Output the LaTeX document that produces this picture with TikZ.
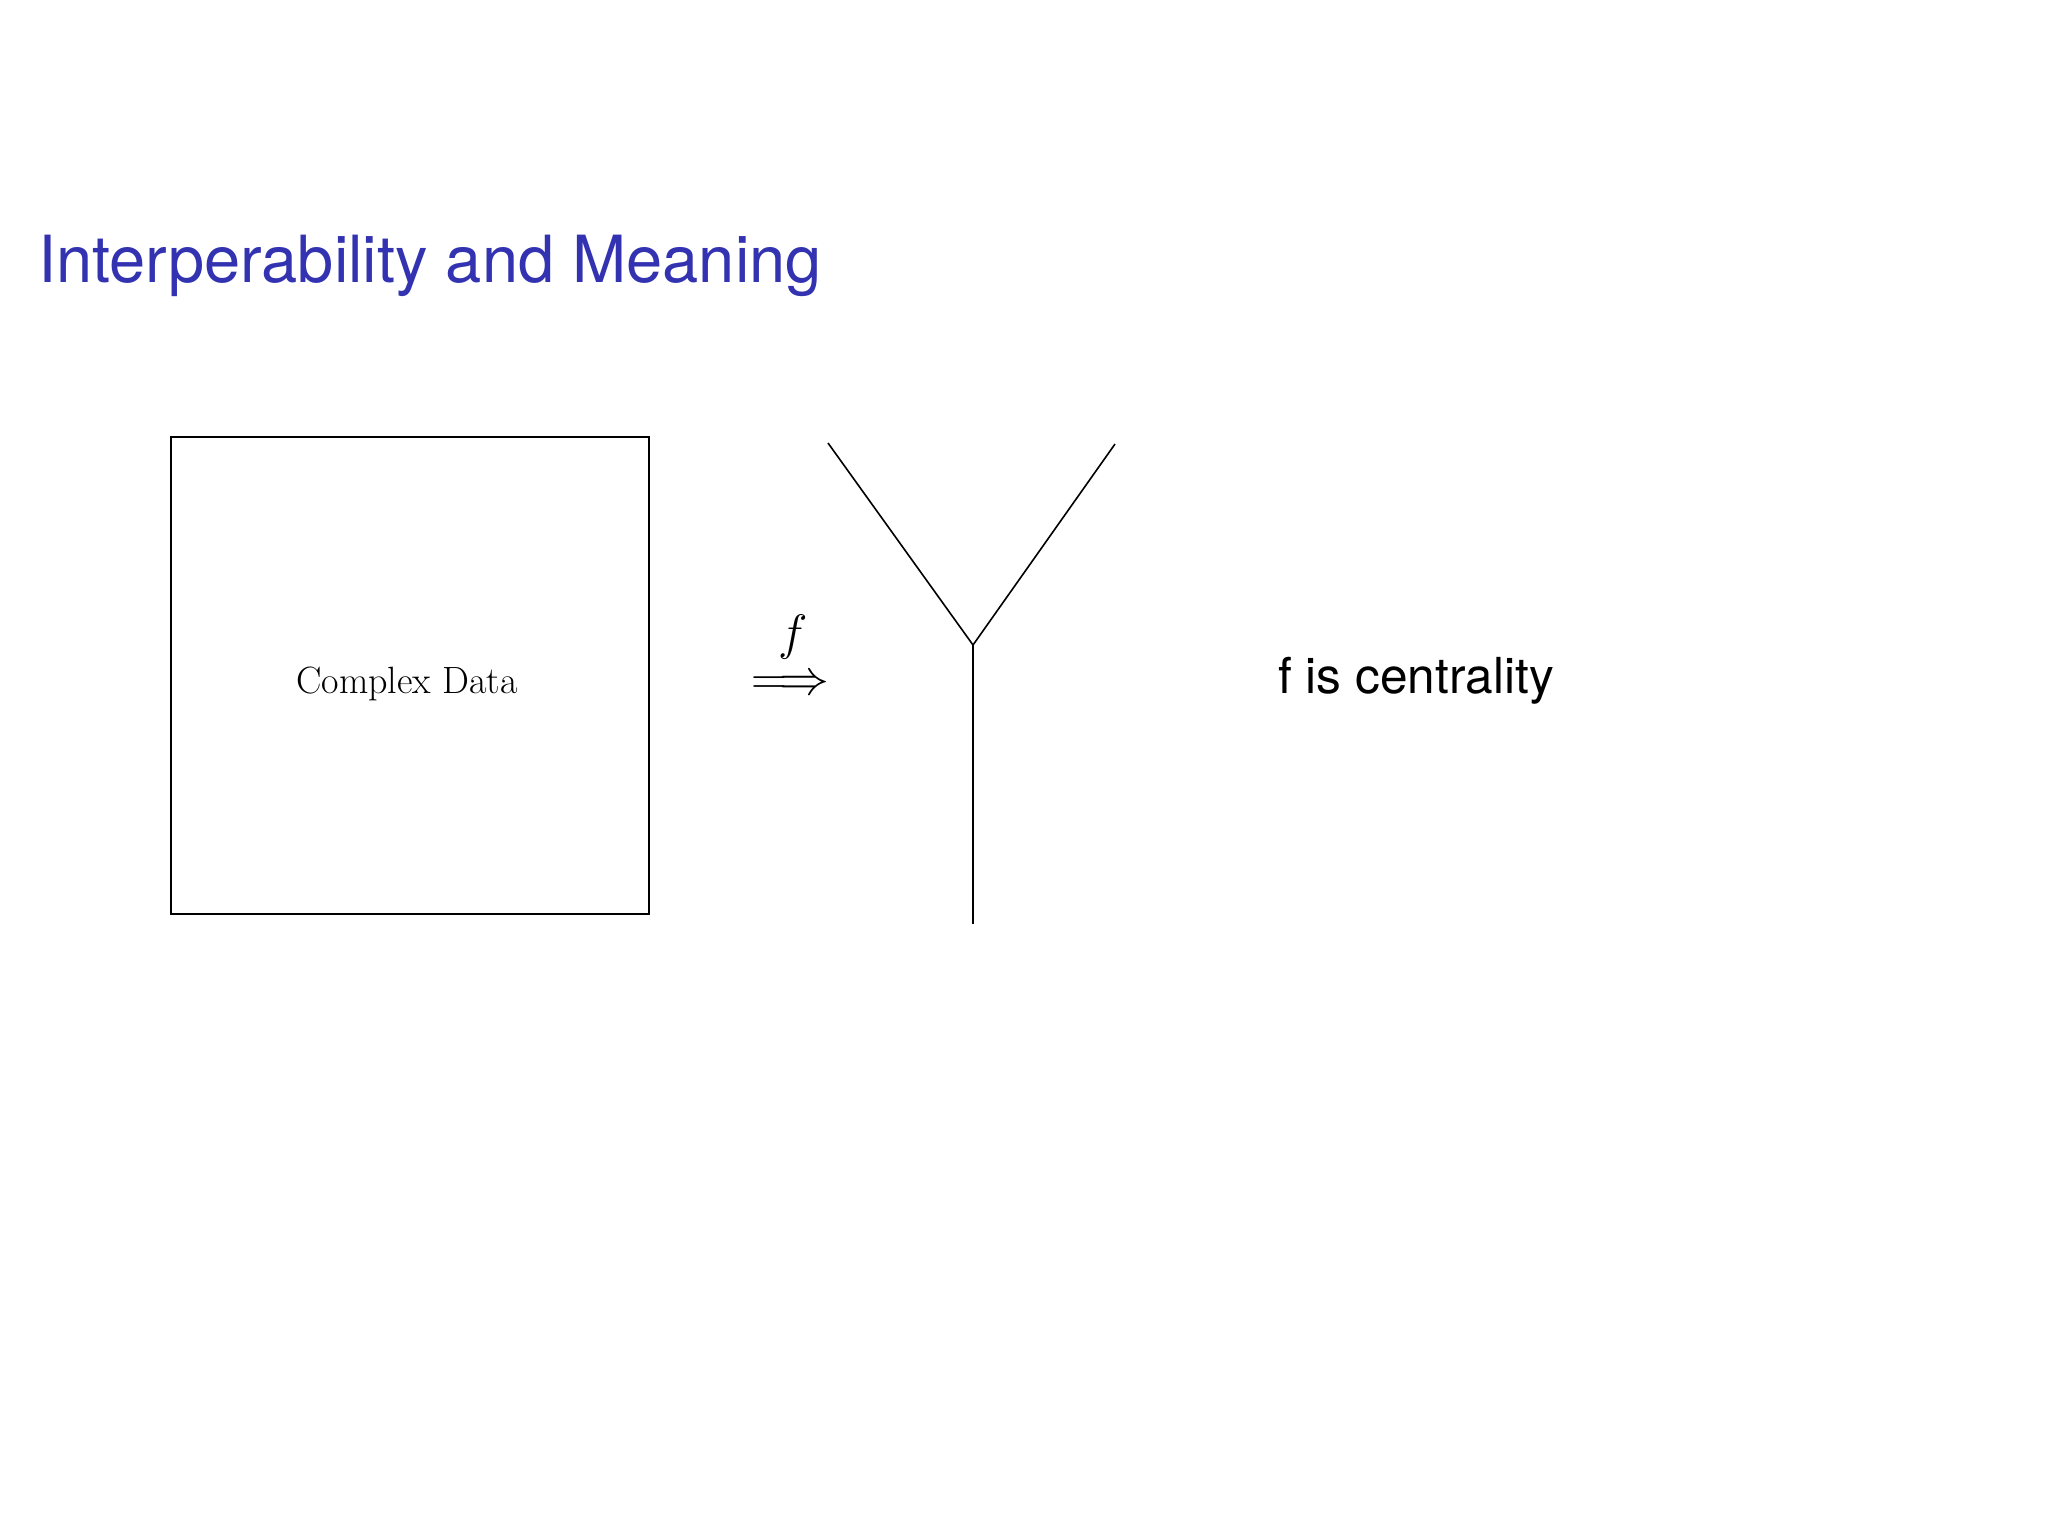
\documentclass[tikz,border=0pt]{standalone}
\usepackage{fontspec}
\newfontfamily\helv{TeX Gyre Heros}
\definecolor{titleblue}{rgb}{0.2,0.2,0.7}
\tikzset{
  thinline/.style={line width=0.8pt, black},
  title/.style={font=\helv\fontsize{32.5}{39}\selectfont, text=titleblue, inner sep=0pt, anchor=base west},
  bodysans/.style={font=\helv\fontsize{24.8}{30}\selectfont, inner sep=0pt, anchor=base west},
  serifbody/.style={font=\fontsize{19}{23}\selectfont, inner sep=0pt, anchor=base},
  databox/.style={draw, thinline, minimum width=239pt, minimum height=238.5pt, inner sep=0pt}
}
\begin{document}
\begin{tikzpicture}[x=0.5pt, y=-0.5pt]
\useasboundingbox (0,0) rectangle (2048,1536);
\fill[white] (0,0) rectangle (2048,1536);
\node[title] (ttl) at (38,282) {Interperability and Meaning};
\node[databox] (data) at (410,675.5) {};
\node[serifbody] (datalabel) at (407,693) {Complex Data};
\node[inner sep=0pt, font=\fontsize{24}{29}\selectfont] (flab) at (793,637) {$f$};
\node[inner sep=0pt, font=\fontsize{23}{28}\selectfont] (arr) at (790.5,685) {$\Longrightarrow$};
\coordinate (ya) at (828,443);
\coordinate (yb) at (1115,444);
\coordinate (yj) at (973,645);
\coordinate (yc) at (973,924);
\draw[thinline] (ya) -- (yj) -- (yb);
\draw[thinline] (yj) -- (yc);
\node[bodysans] (cent) at (1278,693) {f is centrality};
\end{tikzpicture}
\end{document}
